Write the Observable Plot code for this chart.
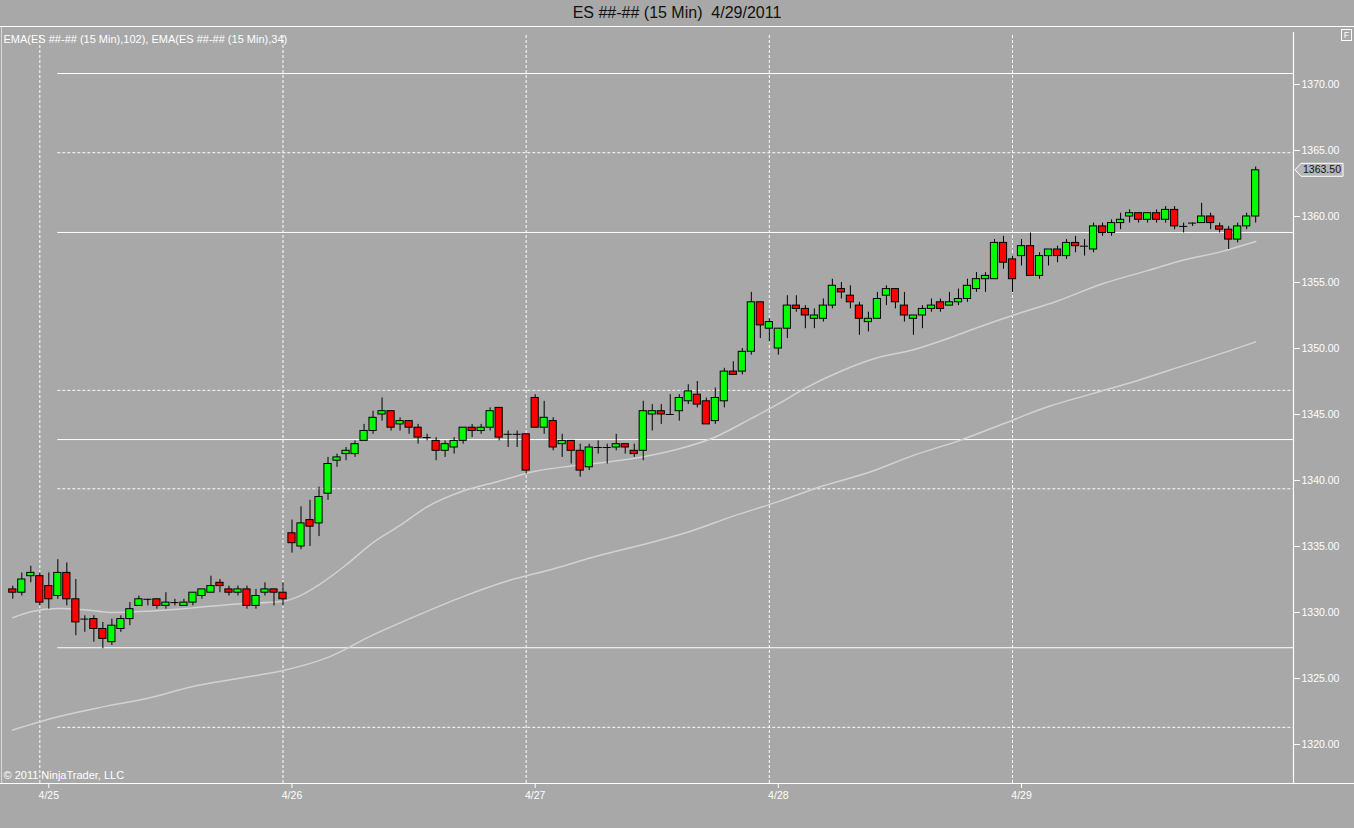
<!DOCTYPE html>
<html>
<head>
<meta charset="utf-8">
<script src="https://cdn.jsdelivr.net/npm/d3@7"></script>
<script src="https://cdn.jsdelivr.net/npm/@observablehq/plot@0.6"></script>
<style>
  html, body { margin: 0; padding: 0; background: #a8a8a8; width: 1354px; height: 828px; overflow: hidden; }
  #title { font: 16px "Liberation Sans", Arial, sans-serif; height: 26px; line-height: 26px; text-align: center; color: #111; white-space: pre; border-bottom: 1px solid #fff; }
  #chart svg { display: block; }
</style>
</head>
<body>
<div id="title">ES ##-## (15 Min)  4/29/2011</div>
<div id="chart"></div>
<script>
// ---- data (15-min bars, index 0..138) ----
const opens = [
1331.75,1331.5,1332.75,1332.75,1332.0,1331.25,1333.0,1331.0,1329.5,1329.5,
1328.75,1327.75,1328.75,1329.5,1330.5,1331.0,1331.0,1330.5,1330.75,1330.5,
1330.75,1331.25,1331.5,1332.25,1331.75,1331.5,1331.75,1330.5,1331.5,1331.75,
1331.5,1336.0,1335.0,1337.0,1336.75,1339.0,1341.5,1342.0,1342.0,1343.0,
1343.75,1345.0,1345.25,1344.25,1344.5,1344.0,1343.25,1343.0,1342.25,1342.5,
1343.0,1344.0,1343.75,1344.0,1345.5,1343.5,1343.5,1343.5,1346.25,1344.0,
1344.5,1342.75,1343.0,1342.25,1341.0,1342.5,1342.5,1342.5,1342.75,1342.25,
1342.25,1345.0,1345.25,1345.0,1345.25,1346.0,1346.5,1346.0,1344.5,1346.0,
1348.25,1348.25,1349.75,1353.5,1351.5,1350.0,1351.5,1353.25,1353.0,1352.25,
1352.25,1353.25,1354.5,1354.0,1353.25,1352.0,1352.25,1354.0,1354.5,1353.25,
1352.25,1352.5,1353.0,1353.5,1353.25,1353.5,1353.75,1354.5,1355.25,1355.25,
1358.0,1356.75,1357.0,1357.75,1355.5,1357.0,1357.5,1357.0,1358.0,1357.75,
1357.5,1359.25,1358.75,1359.5,1360.0,1360.25,1359.75,1360.25,1359.75,1360.5,
1359.25,1359.5,1359.5,1360.0,1359.25,1359.0,1358.25,1359.25,1360.0];
const highs = [
1332.0,1333.0,1333.5,1333.0,1333.0,1334.0,1333.75,1332.5,1329.75,1329.75,
1329.25,1329.5,1329.75,1330.75,1331.25,1331.0,1331.0,1331.5,1331.0,1331.0,
1331.5,1331.75,1332.75,1332.5,1332.0,1332.0,1332.0,1331.75,1332.25,1331.75,
1332.25,1337.0,1338.0,1338.5,1339.5,1341.75,1342.0,1342.5,1343.0,1344.25,
1345.25,1346.25,1345.25,1344.75,1344.5,1344.25,1343.5,1343.25,1343.0,1343.25,
1344.0,1344.25,1344.25,1345.5,1345.5,1343.75,1343.75,1343.5,1346.5,1346.0,
1344.75,1343.5,1343.0,1342.75,1342.75,1343.0,1342.75,1343.5,1342.75,1342.75,
1346.0,1345.75,1345.75,1346.5,1346.5,1347.25,1347.5,1346.25,1347.0,1348.5,
1349.0,1350.0,1354.25,1353.5,1352.25,1351.5,1354.0,1354.0,1353.25,1353.0,
1353.75,1355.25,1355.0,1354.75,1353.5,1352.75,1354.25,1354.75,1354.5,1354.25,
1352.5,1353.25,1353.75,1353.75,1354.25,1354.5,1355.25,1355.75,1355.75,1358.25,
1358.5,1357.0,1358.25,1358.75,1357.25,1357.5,1357.75,1358.25,1358.5,1358.25,
1359.5,1359.5,1359.75,1360.25,1360.5,1360.25,1360.25,1360.5,1360.75,1360.75,
1359.5,1359.5,1361.0,1360.25,1359.5,1359.25,1359.5,1360.25,1363.75];
const lows = [
1331.0,1331.25,1332.25,1330.5,1330.25,1331.0,1330.5,1328.25,1328.5,1327.75,
1327.25,1327.5,1328.5,1329.0,1330.5,1330.5,1330.25,1330.25,1330.5,1330.5,
1330.5,1331.0,1331.5,1331.5,1331.25,1331.25,1330.25,1330.25,1331.25,1330.5,
1330.5,1334.5,1334.75,1335.0,1335.75,1338.5,1341.0,1341.5,1341.75,1343.0,
1343.5,1344.5,1343.75,1343.75,1343.5,1342.75,1343.0,1341.5,1341.75,1342.0,
1342.75,1343.25,1343.5,1343.75,1343.0,1342.5,1342.5,1340.5,1344.0,1343.5,
1342.25,1341.75,1341.25,1340.25,1340.75,1342.0,1341.25,1342.25,1342.0,1341.75,
1341.5,1343.75,1344.25,1345.0,1344.5,1345.75,1345.5,1344.25,1344.25,1345.5,
1348.0,1348.0,1349.5,1350.75,1350.5,1349.5,1350.75,1352.75,1351.5,1351.5,
1352.0,1353.0,1353.75,1353.0,1351.0,1351.25,1352.25,1353.25,1353.0,1352.0,
1351.0,1351.5,1352.75,1352.75,1353.25,1353.25,1353.5,1354.25,1354.25,1355.25,
1356.0,1354.25,1356.25,1355.5,1355.25,1356.25,1356.5,1356.75,1357.25,1357.0,
1357.25,1358.5,1358.5,1359.0,1359.5,1359.5,1359.5,1359.5,1359.5,1359.0,
1358.75,1359.25,1359.5,1359.0,1358.75,1357.5,1358.0,1359.0,1359.5];
const closes = [
1331.5,1332.5,1333.0,1330.75,1331.0,1333.0,1331.0,1329.25,1329.5,1328.75,
1328.0,1329.0,1329.5,1330.25,1331.0,1331.0,1330.5,1330.75,1330.75,1330.75,
1331.5,1331.75,1332.0,1332.0,1331.5,1331.75,1330.5,1331.25,1331.75,1331.5,
1331.0,1335.25,1336.75,1336.5,1338.75,1341.25,1341.75,1342.25,1342.75,1343.75,
1344.75,1345.25,1344.0,1344.5,1344.0,1343.25,1343.25,1342.25,1342.75,1343.0,
1344.0,1343.75,1344.0,1345.25,1343.25,1343.5,1343.5,1340.75,1344.0,1344.75,
1342.5,1343.0,1342.25,1340.75,1342.5,1342.5,1342.5,1342.75,1342.5,1342.0,
1345.25,1345.25,1345.0,1345.0,1346.25,1346.75,1345.75,1344.25,1346.25,1348.25,
1348.0,1349.75,1353.5,1351.75,1352.0,1351.5,1353.25,1353.0,1352.5,1352.5,
1353.25,1354.75,1354.25,1353.5,1352.25,1352.25,1353.75,1354.5,1353.5,1352.5,
1352.5,1353.0,1353.25,1353.0,1353.5,1353.75,1354.75,1355.25,1355.5,1358.0,
1356.5,1355.25,1357.75,1355.5,1357.0,1357.5,1357.0,1358.0,1357.75,1357.75,
1359.25,1358.75,1359.5,1359.75,1360.25,1359.75,1360.25,1359.75,1360.5,1359.25,
1359.25,1359.5,1360.0,1359.5,1359.0,1358.25,1359.25,1360.0,1363.5];

// EMA(34) read at selected bar indices
const ema34Index  = [0,2,5,8,11,15,20,25,30,32,34,37,40,43,46,50,54,58,62,66,70,74,78,82,85,88,92,96,100,104,108,111,116,121,126,130,134,138];
const ema34Values = [1329.6,1330.05,1330.3,1330.2,1330.0,1330.1,1330.35,1330.65,1330.85,1331.3,1332.1,1333.6,1335.3,1336.6,1338.0,1339.2,1339.95,1340.7,1341.1,1341.4,1341.8,1342.4,1343.3,1344.7,1345.8,1347.0,1348.3,1349.3,1349.9,1350.8,1351.8,1352.5,1353.6,1354.9,1355.9,1356.7,1357.3,1358.1];
// EMA(102) read at selected bar indices
const ema102Index  = [0,5,10,15,20,25,30,35,40,45,50,55,60,65,70,75,80,85,90,95,100,105,110,115,120,125,130,135,138];
const ema102Values = [1321.1,1322.1,1322.85,1323.5,1324.4,1325.0,1325.6,1326.6,1328.3,1329.8,1331.2,1332.4,1333.3,1334.3,1335.15,1336.1,1337.3,1338.4,1339.6,1340.6,1341.9,1343.0,1344.3,1345.6,1346.6,1347.6,1348.7,1349.8,1350.5];

const solidLevels  = [1370.83, 1358.79, 1343.1, 1327.33];
const dashedLevels = [1364.83, 1346.83, 1339.37, 1321.3];
const levelStartIndex = 5;

const sessionStarts = [3, 30, 57, 84, 111];
const dayTicks  = [4, 31, 58, 85, 112];
const dayLabels = ["4/25", "4/26", "4/27", "4/28", "4/29"];
const priceTicks = [1320, 1325, 1330, 1335, 1340, 1345, 1350, 1355, 1360, 1365, 1370];

const legendText = "EMA(ES ##-## (15 Min),102), EMA(ES ##-## (15 Min),34)";
const copyText = "© 2011 NinjaTrader, LLC";

// ---- build tables ----
const bars = opens.map((o, i) => ({i, open: o, high: highs[i], low: lows[i], close: closes[i]}));
const ema34 = ema34Index.map((i, k) => ({i, v: ema34Values[k]}));
const ema102 = ema102Index.map((i, k) => ({i, v: ema102Values[k]}));

const xMin = -1.366, xMax = 142.2, xFull = 149.0;
const yMin = 1317.045, yMax = 1374.318;
const pxPerPt = 13.2;
const FONT = '"Liberation Sans", Arial, sans-serif';

const chart = Plot.plot({
  width: 1354,
  height: 801,
  marginTop: 0,
  marginBottom: 45,
  marginLeft: 0,
  marginRight: 61,
  style: {background: "transparent", fontFamily: FONT, overflow: "visible"},
  x: {domain: [xMin, xMax], axis: null},
  y: {domain: [yMin, yMax], axis: null},
  marks: [
    // session separators
    Plot.ruleX(sessionStarts, {x: d => d, y1: yMin, y2: yMax - 8 / pxPerPt, stroke: "white", strokeDasharray: "3,2", strokeWidth: 1}),
    // levels
    Plot.ruleY(solidLevels, {y: d => d, x1: levelStartIndex, x2: xMax, stroke: "white", strokeWidth: 1}),
    Plot.ruleY(dashedLevels, {y: d => d, x1: levelStartIndex, x2: xMax, stroke: "white", strokeWidth: 1, strokeDasharray: "3,2"}),
    // EMAs
    Plot.line(ema102, {x: "i", y: "v", stroke: "#d2d2d2", strokeWidth: 1.5, curve: "monotone-x"}),
    Plot.line(ema34, {x: "i", y: "v", stroke: "#d2d2d2", strokeWidth: 1.5, curve: "monotone-x"}),
    // wicks
    Plot.ruleX(bars, {x: "i", y1: "low", y2: "high", stroke: "black", strokeWidth: 1}),
    // bodies
    Plot.rect(bars.filter(d => d.open !== d.close), {
      x1: d => d.i - 0.4, x2: d => d.i + 0.4, y1: "open", y2: "close",
      fill: d => d.close > d.open ? "#00ff00" : "#ff0000", stroke: "black", strokeWidth: 1
    }),
    // doji
    Plot.ruleY(bars.filter(d => d.open === d.close), {y: "open", x1: d => d.i - 0.45, x2: d => d.i + 0.45, stroke: "black", strokeWidth: 1}),
    // frame lines
    Plot.ruleY([yMin], {x1: xMin, x2: xFull, stroke: "white", strokeWidth: 1.2}),
    Plot.ruleX([xMax], {y1: yMin, y2: yMax - 5 / pxPerPt, stroke: "white", strokeWidth: 1.2}),
    Plot.ruleX([xMin + 1 / 9.006], {y1: yMin, y2: yMax, stroke: "#d6d6d6", strokeWidth: 1}),
    // axes
    Plot.axisY({ticks: priceTicks, anchor: "right", tickFormat: d => d.toFixed(2), tickSize: 6, tickPadding: 2, color: "white", fontSize: 10.5, label: null}),
    Plot.axisX({ticks: dayTicks, anchor: "bottom", tickFormat: d => dayLabels[dayTicks.indexOf(d)], tickSize: 5, tickPadding: 3, color: "white", fontSize: 10.5, label: null}),
    // texts
    Plot.text([legendText], {frameAnchor: "top-left", dx: 3, dy: 12, text: d => d, textAnchor: "start", lineAnchor: "middle", fill: "white", fontSize: 11}),
    Plot.text([copyText], {frameAnchor: "bottom-left", dx: 3, dy: -8, text: d => d, textAnchor: "start", lineAnchor: "middle", fill: "white", fontSize: 11})
  ]
});

document.getElementById("chart").appendChild(chart);

// last-price marker and corner box
const svg = d3.select(chart);
const last = bars[bars.length - 1];
const yPx = chart.scale("y").apply(last.close);
const xPx = chart.scale("x").apply(xMax);
const g = svg.append("g");
g.append("path")
  .attr("d", `M${xPx + 2},${yPx} L${xPx + 8},${yPx - 6.5} L${xPx + 50},${yPx - 6.5} L${xPx + 50},${yPx + 6.5} L${xPx + 8},${yPx + 6.5} Z`)
  .attr("fill", "#b6b6b6").attr("stroke", "white").attr("stroke-width", 1);
g.append("text")
  .attr("x", xPx + 29).attr("y", yPx).attr("dy", "0.35em")
  .attr("text-anchor", "middle").attr("font-size", 10.5).attr("font-family", FONT)
  .attr("fill", "#111").text(last.close.toFixed(2));
g.append("rect").attr("x", 1341.5).attr("y", 2.5).attr("width", 10).attr("height", 11)
  .attr("fill", "none").attr("stroke", "white");
g.append("text").attr("x", 1346.5).attr("y", 8).attr("dy", "0.35em").attr("text-anchor", "middle")
  .attr("font-size", 9).attr("font-family", FONT).attr("fill", "white").text("F");
</script>
</body>
</html>
